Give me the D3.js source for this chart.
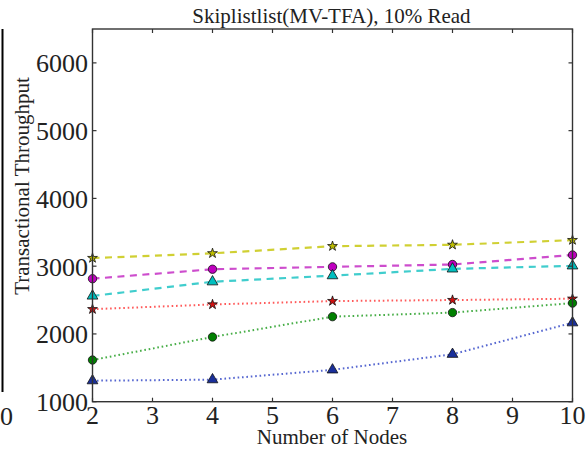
<!DOCTYPE html>
<html>
<head>
<meta charset="utf-8">
<script src="https://cdn.jsdelivr.net/npm/d3@7"></script>
<style>
  html, body { margin: 0; padding: 0; background: #fff; }
  svg { display: block; }
  text { font-family: "Liberation Serif", "DejaVu Serif", serif; fill: #222; }
</style>
</head>
<body>
<svg id="chart" width="586" height="451"></svg>
<script>
// Throughput vs. node count for six configurations
const nodes = [2, 4, 6, 8, 10];
const xTicks = [2, 3, 4, 5, 6, 7, 8, 9, 10];
const yTicks = [1000, 2000, 3000, 4000, 5000, 6000];

const yellowStar   = [3120, 3190, 3295, 3315, 3385];
const magentaDot   = [2815, 2955, 2990, 3025, 3165];
const cyanTri      = [2560, 2770, 2860, 2960, 3005];
const redStar      = [2365, 2435, 2485, 2500, 2520];
const greenDot     = [1615, 1955, 2255, 2315, 2455];
const blueTri      = [1310, 1325, 1470, 1700, 2165];

const series = [
  { values: yellowStar, color: "#c4c400", dash: "7,5.5", marker: "star", fill: "#bfbf00" },
  { values: magentaDot, color: "#c020c0", dash: "7,5.5", marker: "circle", fill: "#bf00bf" },
  { values: cyanTri,    color: "#10c0c0", dash: "7,5.5", marker: "triangle", fill: "#00bfbf" },
  { values: redStar,    color: "#ff3030", dash: "1.6,2.8", marker: "star", fill: "#d01010" },
  { values: greenDot,   color: "#189818", dash: "1.6,2.8", marker: "circle", fill: "#008000" },
  { values: blueTri,    color: "#2a40c4", dash: "1.6,2.8", marker: "triangle", fill: "#1a2f9a" }
];

const svg = d3.select("#chart");
const L = 92.5, R = 572.5, T = 29, B = 401.7;

const x = d3.scaleLinear().domain([2, 10]).range([L, R]);
const y = d3.scaleLinear().domain([1000, 6500]).range([B, T]);

// edge of the neighbouring panel on the left
svg.append("line").attr("x1", 2.5).attr("x2", 2.5).attr("y1", T).attr("y2", 392)
  .attr("stroke", "#000").attr("stroke-width", 2);
svg.append("text").attr("x", 13).attr("y", 425).attr("text-anchor", "end")
  .attr("font-size", 26).text("10");
// y label of the neighbouring panel on the right
svg.append("text")
  .attr("transform", "translate(601,186) rotate(-90)")
  .attr("text-anchor", "middle").attr("font-size", 20.5)
  .text("Transactional Throughput");

// lines
const line = d3.line().x((d, i) => x(nodes[i])).y(d => y(d));
const gLines = svg.append("g");
series.forEach(s => {
  gLines.append("path")
    .attr("d", line(s.values))
    .attr("fill", "none")
    .attr("stroke", s.color)
    .attr("stroke-width", s.dash.startsWith("7") ? 2.2 : 2)
    .attr("stroke-dasharray", s.dash)
    .attr("opacity", 0.8);
});

// markers
const symbolFor = { star: d3.symbolStar, circle: d3.symbolCircle, triangle: d3.symbolTriangle };
const sizeFor = { star: 30, circle: 55, triangle: 50 };
series.forEach(s => {
  svg.append("g").selectAll("path")
    .data(s.values)
    .join("path")
    .attr("transform", (d, i) => `translate(${x(nodes[i])},${y(d)})`)
    .attr("d", d3.symbol().type(symbolFor[s.marker]).size(sizeFor[s.marker]))
    .attr("fill", s.fill)
    .attr("stroke", "#111")
    .attr("stroke-width", 0.8);
});

// frame
svg.append("rect").attr("x", L).attr("y", T).attr("width", R - L).attr("height", B - T)
  .attr("fill", "none").attr("stroke", "#333").attr("stroke-width", 1.4);

// inward ticks on all four sides
const tk = 4;
const gt = svg.append("g").attr("stroke", "#333").attr("stroke-width", 1.2);
xTicks.forEach(v => {
  gt.append("line").attr("x1", x(v)).attr("x2", x(v)).attr("y1", B).attr("y2", B - tk);
  gt.append("line").attr("x1", x(v)).attr("x2", x(v)).attr("y1", T).attr("y2", T + tk);
});
yTicks.forEach(v => {
  gt.append("line").attr("x1", L).attr("x2", L + tk).attr("y1", y(v)).attr("y2", y(v));
  gt.append("line").attr("x1", R).attr("x2", R - tk).attr("y1", y(v)).attr("y2", y(v));
});

// tick labels
svg.append("g").selectAll("text").data(xTicks).join("text")
  .attr("x", d => x(d)).attr("y", 424)
  .attr("text-anchor", "middle").attr("font-size", 26)
  .text(d => d);
svg.append("g").selectAll("text").data(yTicks).join("text")
  .attr("x", 88).attr("y", d => y(d) + 9.5)
  .attr("text-anchor", "end").attr("font-size", 26)
  .text(d => d);

// titles
svg.append("text").attr("x", 331.5).attr("y", 23)
  .attr("text-anchor", "middle").attr("font-size", 21)
  .text("Skiplistlist(MV-TFA), 10% Read");
svg.append("text").attr("x", 332).attr("y", 444)
  .attr("text-anchor", "middle").attr("font-size", 21)
  .text("Number of Nodes");
svg.append("text")
  .attr("transform", "translate(29,186) rotate(-90)")
  .attr("text-anchor", "middle").attr("font-size", 21)
  .text("Transactional Throughput");
</script>
</body>
</html>
